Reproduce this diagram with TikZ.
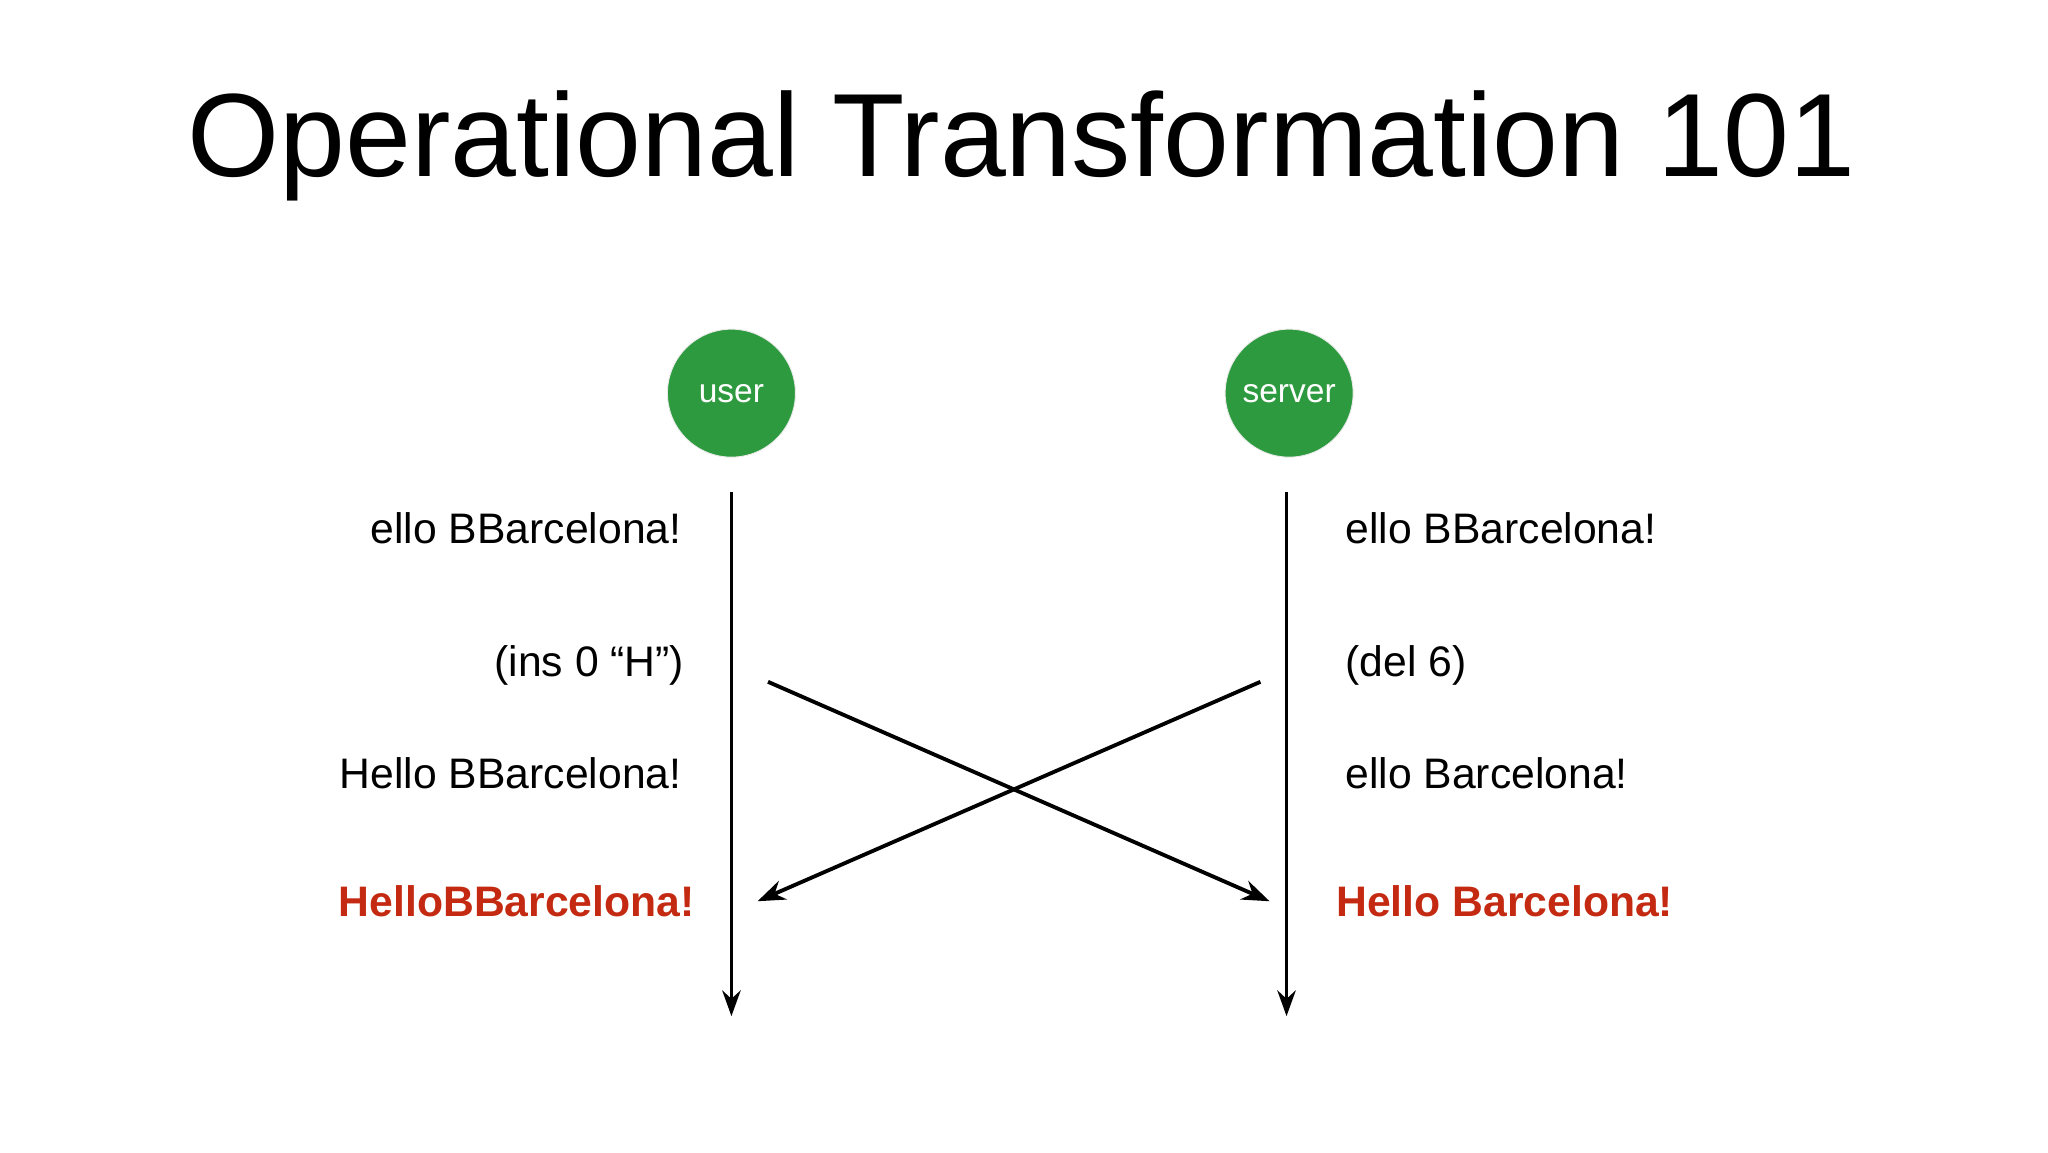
\documentclass[tikz,border=0pt]{standalone}
\usepackage{fontspec}
\setmainfont{Liberation Sans}
\usetikzlibrary{arrows.meta}
\definecolor{okgreen}{HTML}{2E9A3F}
\definecolor{okred}{HTML}{C42A12}
\tikzset{
  actor/.style={circle,fill=okgreen,draw=black!8,line width=1pt,minimum size=98*0.05cm,inner sep=0pt,text=white,font=\fontsize{36.5}{40}\selectfont},
  lbl/.style={inner sep=0pt,font=\fontsize{46.5}{52}\selectfont},
  res/.style={lbl,text=okred,font=\fontsize{46.5}{52}\selectfont\bfseries},
  life/.style={line width=4.2pt,-{Stealth[length=28pt,width=20pt]}},
  msg/.style={line width=4.2pt,-{Stealth[length=30pt,width=22pt]}}
}
\begin{document}
\begin{tikzpicture}[x=0.05cm,y=-0.05cm]
\useasboundingbox (0,0) rectangle (1568,882);
\node[inner sep=0pt,font=\fontsize{129}{142}\selectfont] (title) at (782,112) {Operational Transformation 101};
\node[actor] (user) at (560,301) {user};
\node[actor] (server) at (987,301) {server};
\coordinate (u0) at (560,377); \coordinate (u1) at (560,778);
\coordinate (s0) at (985,377); \coordinate (s1) at (985,778);
\draw[life] (u0) -- (u1);
\draw[life] (s0) -- (s1);
\coordinate (a0) at (588,522); \coordinate (a1) at (972,690);
\coordinate (b0) at (965,522); \coordinate (b1) at (580,690);
\draw[msg] (a0) -- (a1);
\draw[msg] (b0) -- (b1);
\node[lbl,anchor=base east] (l1) at (522,416) {ello BBarcelona!};
\node[lbl,anchor=base east] (l2) at (524,518) {(ins 0 “H”)};
\node[lbl,anchor=base east] (l3) at (522,604) {Hello BBarcelona!};
\node[res,anchor=base east] (l4) at (532,702) {HelloBBarcelona!};
\node[lbl,anchor=base west] (r1) at (1030,416) {ello BBarcelona!};
\node[lbl,anchor=base west] (r2) at (1030,518) {(del 6)};
\node[lbl,anchor=base west] (r3) at (1030,604) {ello Barcelona!};
\node[res,anchor=base west] (r4) at (1023,702) {Hello Barcelona!};
\end{tikzpicture}
\end{document}
